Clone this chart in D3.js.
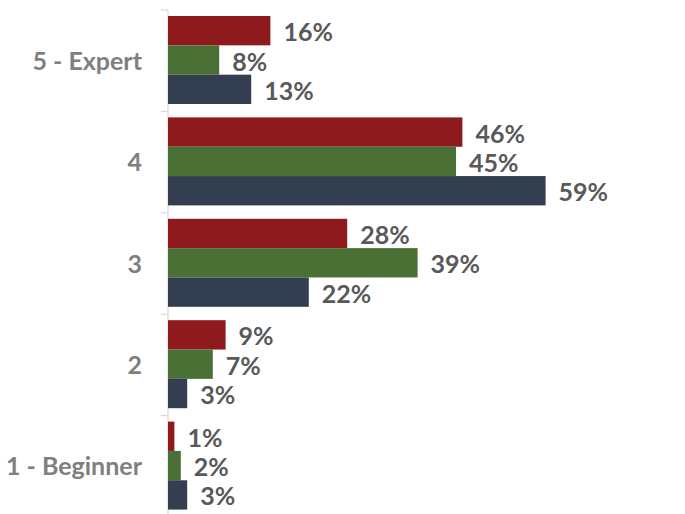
<!DOCTYPE html>
<html>
<head>
<meta charset="utf-8">
<script src="https://cdn.jsdelivr.net/npm/d3@7"></script>
<style>
  html, body { margin: 0; padding: 0; background: #fff; }
  svg { display: block; font-family: Lato, "Open Sans", sans-serif; font-weight: bold; }
</style>
</head>
<body>
<svg id="chart" width="685" height="514"></svg>
<script>
// Skill levels, top to bottom
const categories = ["5 - Expert", "4", "3", "2", "1 - Beginner"];
const seriesNames = ["A", "B", "C"];
const seriesA = [16, 46, 28, 9, 1];
const seriesB = [8, 45, 39, 7, 2];
const seriesC = [13, 59, 22, 3, 3];
const seriesColors = ["#8e1a1d", "#4a7036", "#333f50"];

const series = [seriesA, seriesB, seriesC];

const svg = d3.select("#chart");
const plotLeft = 168, plotTop = 10, bandH = 101.4;

const x = d3.scaleLinear().domain([0, 80]).range([plotLeft, plotLeft + 512]);
const y = d3.scaleBand().domain(categories)
  .range([plotTop, plotTop + bandH * categories.length])
  .paddingInner(0).paddingOuter(0);
const inner = d3.scaleBand().domain(seriesNames)
  .range([6, y.bandwidth() - 7.4]).padding(0);

// Category axis: vertical line with ticks between categories
const axisG = svg.append("g");
axisG.append("line")
  .attr("x1", plotLeft).attr("x2", plotLeft)
  .attr("y1", y.range()[0]).attr("y2", y.range()[1])
  .attr("stroke", "#d9d9d9").attr("stroke-width", 1.2);
const boundaries = categories.map(c => y(c)).concat([y.range()[1]]);
axisG.selectAll("line.tick").data(boundaries).join("line")
  .attr("class", "tick")
  .attr("x1", plotLeft - 7).attr("x2", plotLeft)
  .attr("y1", d => d).attr("y2", d => d)
  .attr("stroke", "#d9d9d9").attr("stroke-width", 1.2);
axisG.selectAll("text").data(categories).join("text")
  .attr("x", plotLeft - 26)
  .attr("y", d => y(d) + y.bandwidth() / 2 - 1)
  .attr("text-anchor", "end")
  .attr("dominant-baseline", "central")
  .attr("fill", "#7f7f7f")
  .attr("font-size", 25)
  .text(d => d);

// Bars and value labels
const rows = [];
categories.forEach((c, i) => {
  series.forEach((s, j) => rows.push({ cat: c, name: seriesNames[j], value: s[i], color: seriesColors[j] }));
});

const g = svg.append("g");
g.selectAll("rect").data(rows).join("rect")
  .attr("x", x(0))
  .attr("y", d => y(d.cat) + inner(d.name))
  .attr("width", d => x(d.value) - x(0))
  .attr("height", inner.bandwidth())
  .attr("fill", d => d.color);

g.selectAll("text").data(rows).join("text")
  .attr("x", d => x(d.value) + 13)
  .attr("y", d => y(d.cat) + inner(d.name) + inner.bandwidth() / 2 + 0.5)
  .attr("dominant-baseline", "central")
  .attr("fill", "#595959")
  .attr("font-size", 25)
  .text(d => d.value + "%");
</script>
</body>
</html>
